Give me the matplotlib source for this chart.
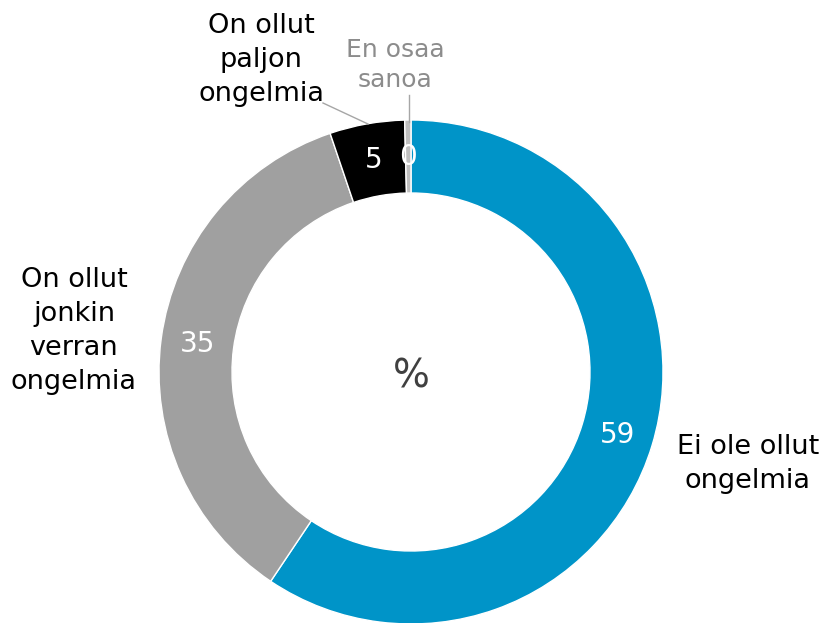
import matplotlib.pyplot as plt

# data (percent)
categories = ["Ei ole ollut\nongelmia", "On ollut\njonkin\nverran\nongelmia",
              "On ollut\npaljon\nongelmia", "En osaa\nsanoa"]
values = [59.4, 35.4, 4.8, 0.4]
colors = ["#0094C8", "#A0A0A0", "#000000", "#BFBFBF"]

W, H = 825, 623
fig = plt.figure(figsize=(W / 100, H / 100), dpi=100)
ax = fig.add_axes([0, 0, 1, 1])


def py(y):
    # pixel row (from top) -> data y
    return H - y


cx, cy, r_out, r_in = 411, 372, 252, 179

wedges, _, autotexts = ax.pie(
    values,
    colors=colors,
    startangle=90,
    counterclock=False,
    center=(cx, py(cy)),
    radius=r_out,
    autopct=lambda p: f"{p:.0f}",
    pctdistance=(r_out + r_in) / 2 / r_out,
    wedgeprops=dict(width=r_out - r_in, edgecolor="white", linewidth=1),
    textprops=dict(color="white", fontsize=20),
    frame=True,
)
ax.set_xlim(0, W)
ax.set_ylim(0, H)
ax.set_aspect("equal")
ax.axis("off")

# centre label
ax.text(cx, py(377), "%", fontsize=28, color="#404040", ha="center", va="center")

# outer labels
ax.text(748, py(464), categories[0], fontsize=19.5, color="black",
        ha="center", va="center", linespacing=1.4)
ax.text(74, py(331), categories[1], fontsize=19.5, color="black",
        ha="center", va="center", linespacing=1.4)
ax.text(261, py(60), categories[2], fontsize=19.5, color="black",
        ha="center", va="center", linespacing=1.4)
ax.text(395, py(65), categories[3], fontsize=18, color="#8C8C8C",
        ha="center", va="center", linespacing=1.27)

# leader lines
ax.plot([323, 368], [py(103), py(124)], color="#A6A6A6", lw=1)
ax.plot([409, 409], [py(95), py(122)], color="#A6A6A6", lw=1)

fig.savefig("out.png", dpi=100)
